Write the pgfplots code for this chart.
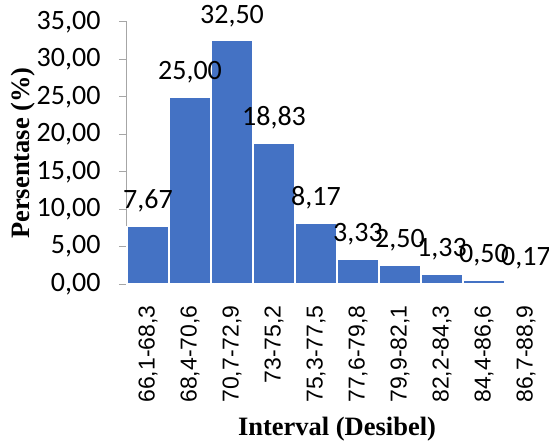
\documentclass[border=0pt]{standalone}
\usepackage{fontspec}
\usepackage{pgfplots}
\pgfplotsset{compat=1.18}
\setmainfont{Liberation Serif}
\newfontfamily\carlito{Carlito}
\newfontfamily\arialf{Liberation Sans}
\definecolor{barblue}{HTML}{4472C4}
\definecolor{axgray}{HTML}{A6A6A6}
\begin{document}
\begin{tikzpicture}
\path[use as bounding box] (-127pt,-160pt) rectangle (422pt,284pt);
\begin{axis}[
  anchor=south west, at={(0pt,0pt)},
  scale only axis, width=420pt, height=262pt,
  xmin=-0.5, xmax=9.5, ymin=0, ymax=35,
  axis x line*=bottom, axis y line*=left,
  axis line style={axgray, line width=1pt, -},
  ytick={0,5,...,35},
  ytick style={axgray, line width=1pt},
  tick align=outside, major tick length=8pt,
  xtick=data,
  xticklabels={{66,1-68,3}, {68,4-70,6}, {70,7-72,9}, {73-75,2}, {75,3-77,5}, {77,6-79,8}, {79,9-82,1}, {82,2-84,3}, {84,4-86,6}, {86,7-88,9}},
  xtick style={draw=none},
  xticklabel style={font=\arialf\fontsize{23}{27}\selectfont, rotate=90, anchor=east, xshift=-10pt},
  yticklabel style={font=\carlito\fontsize{28}{32}\selectfont, xshift=-15pt,
    /pgf/number format/.cd, fixed, fixed zerofill, precision=2, use comma, assume math mode=true},
  ybar, bar width=42pt,
  ylabel={Persentase (\%)},
  ylabel style={font=\bfseries\fontsize{26.5}{30}\selectfont, at={([xshift=-104pt]rel axis cs:0,0.5)}, anchor=center},
  xlabel={Interval (Desibel)},
  xlabel style={font=\bfseries\fontsize{26.5}{30}\selectfont, at={([yshift=-145pt]rel axis cs:0.5,0)}, anchor=center},
  nodes near coords,
  nodes near coords style={font=\carlito\fontsize{28}{32}\selectfont, anchor=south, yshift=10pt, black,
    /pgf/number format/.cd, fixed, fixed zerofill, precision=2, use comma, assume math mode=true},
  clip=false,
]
\addplot[fill=barblue, draw=white, line width=1.5pt] coordinates {
  (0,7.67) (1,25.00) (2,32.50) (3,18.83) (4,8.17) (5,3.33) (6,2.50) (7,1.33) (8,0.50) (9,0.17)
};
\end{axis}
\end{tikzpicture}
\end{document}
